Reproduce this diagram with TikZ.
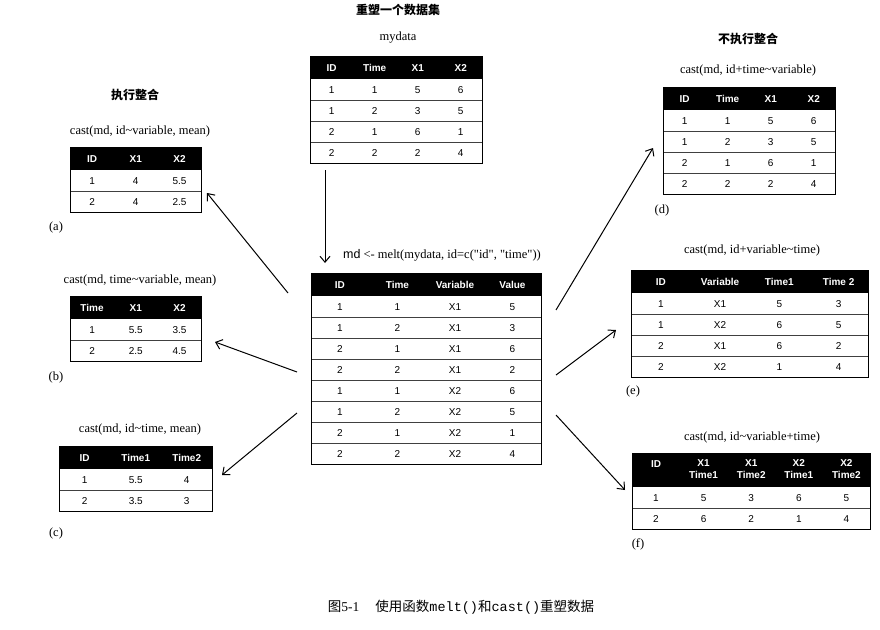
\documentclass[tikz,border=0pt]{standalone}
\usepackage{fontspec}
\setmainfont{Liberation Serif}
\setsansfont{Liberation Sans}
\setmonofont{Liberation Mono}
\newfontfamily\cjk{Noto Sans CJK SC}
\usetikzlibrary{matrix,arrows.meta,backgrounds}

\newcommand{\twoline}[2]{\begin{tabular}{@{}c@{}}#1\\#2\end{tabular}}
% header fill, row lines and border of a table
\newcommand{\tblframe}[3]{%
  \begin{pgfonlayer}{background}
    \fill (#1.north west) rectangle (#1-1-#3.south east);
  \end{pgfonlayer}
  \foreach \r in {2,...,#2}
    \draw[rowline] (#1-\r-1.south west) -- (#1-\r-#3.south east);
  \draw[tblborder] (#1.north west) rectangle (#1.south east);
}

\tikzset{
  lbl/.style={font=\fontsize{12.5}{15}\selectfont},
  ttl/.style={font=\cjk\bfseries\fontsize{12}{14}\selectfont},
  tbl/.style={matrix of nodes, inner sep=0pt, anchor=north west,
    nodes={anchor=center, inner sep=0pt, minimum width=#1, minimum height=21pt,
      font=\sffamily\fontsize{10}{12}\selectfont},
    row 1/.style={nodes={text=white, minimum height=23pt,
      font=\sffamily\bfseries\fontsize{10}{12}\selectfont}}},
  rowline/.style={line width=0.9pt, black!75},
  tblborder/.style={line width=1pt},
  arr/.style={-{Straight Barb[length=6pt,width=10pt]}, line width=1pt},
}

\begin{document}
\begin{tikzpicture}[x=1pt,y=-1pt]
\useasboundingbox (0,0) rectangle (880,629);

% titles and labels
\node[ttl] (title) at (398,10) {重塑一个数据集};
\node[lbl] (mydataname) at (398,38) {mydata};
\node[ttl] (aggr) at (135,95) {执行整合};
\node[ttl] (noaggr) at (748,39) {不执行整合};
\node[lbl] (capA) at (140,131) {cast(md, id\textasciitilde variable, mean)};
\node[lbl] (capB) at (140,280) {cast(md, time\textasciitilde variable, mean)};
\node[lbl] (capC) at (140,429) {cast(md, id\textasciitilde time, mean)};
\node[lbl] (capD) at (748,70) {cast(md, id+time\textasciitilde variable)};
\node[lbl] (capE) at (752,250) {cast(md, id+variable\textasciitilde time)};
\node[lbl] (capF) at (752,437) {cast(md, id\textasciitilde variable+time)};
\node[lbl] (meltcap) at (442,255) {\textsf{md} <- melt(mydata, id=c(\textquotedbl id\textquotedbl, \textquotedbl time\textquotedbl))};
\node[lbl] (labA) at (56,227) {(a)};
\node[lbl] (labB) at (56,377) {(b)};
\node[lbl] (labC) at (56,533) {(c)};
\node[lbl] (labD) at (662,210) {(d)};
\node[lbl] (labE) at (633,391) {(e)};
\node[lbl] (labF) at (638,544) {(f)};

% tables
\matrix (mydata) [tbl=43pt] at (310,56) {
  ID & Time & X1 & X2 \\
  1 & 1 & 5 & 6 \\
  1 & 2 & 3 & 5 \\
  2 & 1 & 6 & 1 \\
  2 & 2 & 2 & 4 \\
};
\tblframe{mydata}{4}{4}

\matrix (md) [tbl=57.5pt] at (311,273) {
  ID & Time & Variable & Value \\
  1 & 1 & X1 & 5 \\
  1 & 2 & X1 & 3 \\
  2 & 1 & X1 & 6 \\
  2 & 2 & X1 & 2 \\
  1 & 1 & X2 & 6 \\
  1 & 2 & X2 & 5 \\
  2 & 1 & X2 & 1 \\
  2 & 2 & X2 & 4 \\
};
\tblframe{md}{8}{4}

\matrix (tabA) [tbl=43.7pt] at (70,147) {
  ID & X1 & X2 \\
  1 & 4 & 5.5 \\
  2 & 4 & 2.5 \\
};
\tblframe{tabA}{2}{3}

\matrix (tabB) [tbl=43.7pt] at (70,296) {
  Time & X1 & X2 \\
  1 & 5.5 & 3.5 \\
  2 & 2.5 & 4.5 \\
};
\tblframe{tabB}{2}{3}

\matrix (tabC) [tbl=51pt] at (59,446) {
  ID & Time1 & Time2 \\
  1 & 5.5 & 4 \\
  2 & 3.5 & 3 \\
};
\tblframe{tabC}{2}{3}

\matrix (tabD) [tbl=43pt] at (663,87) {
  ID & Time & X1 & X2 \\
  1 & 1 & 5 & 6 \\
  1 & 2 & 3 & 5 \\
  2 & 1 & 6 & 1 \\
  2 & 2 & 2 & 4 \\
};
\tblframe{tabD}{4}{4}

\matrix (tabE) [tbl=59.25pt] at (631,270) {
  ID & Variable & Time1 & Time 2 \\
  1 & X1 & 5 & 3 \\
  1 & X2 & 6 & 5 \\
  2 & X1 & 6 & 2 \\
  2 & X2 & 1 & 4 \\
};
\tblframe{tabE}{4}{4}

\matrix (tabF) [tbl=47.6pt, row 1/.append style={nodes={minimum height=34pt}}] at (632,453) {
  |[minimum height=0pt, yshift=6pt]| ID & \twoline{X1}{Time1} & \twoline{X1}{Time2} & \twoline{X2}{Time1} & \twoline{X2}{Time2} \\
  1 & 5 & 3 & 6 & 5 \\
  2 & 6 & 2 & 1 & 4 \\
};
\tblframe{tabF}{2}{5}

% arrows
\coordinate (dnFrom) at (325,170);
\coordinate (dnTo) at (325,263);
\coordinate (aFrom) at (288,293);
\coordinate (aTo) at (207,193);
\coordinate (bFrom) at (297,372);
\coordinate (bTo) at (215,342);
\coordinate (cFrom) at (297,413);
\coordinate (cTo) at (222,475);
\coordinate (dFrom) at (556,310);
\coordinate (dTo) at (653,148);
\coordinate (eFrom) at (556,375);
\coordinate (eTo) at (616,330);
\coordinate (fFrom) at (556,415);
\coordinate (fTo) at (625,490);
\foreach \s in {dn,a,b,c,d,e,f}
  \draw[arr] (\s From) -- (\s To);

% caption
\node (caption) at (461,607) {\cjk\fontsize{13.5}{16}\selectfont 图{\rmfamily 5-1}\hspace{1.2em}使用函数{\ttfamily melt()}和{\ttfamily cast()}重塑数据};
\end{tikzpicture}
\end{document}
